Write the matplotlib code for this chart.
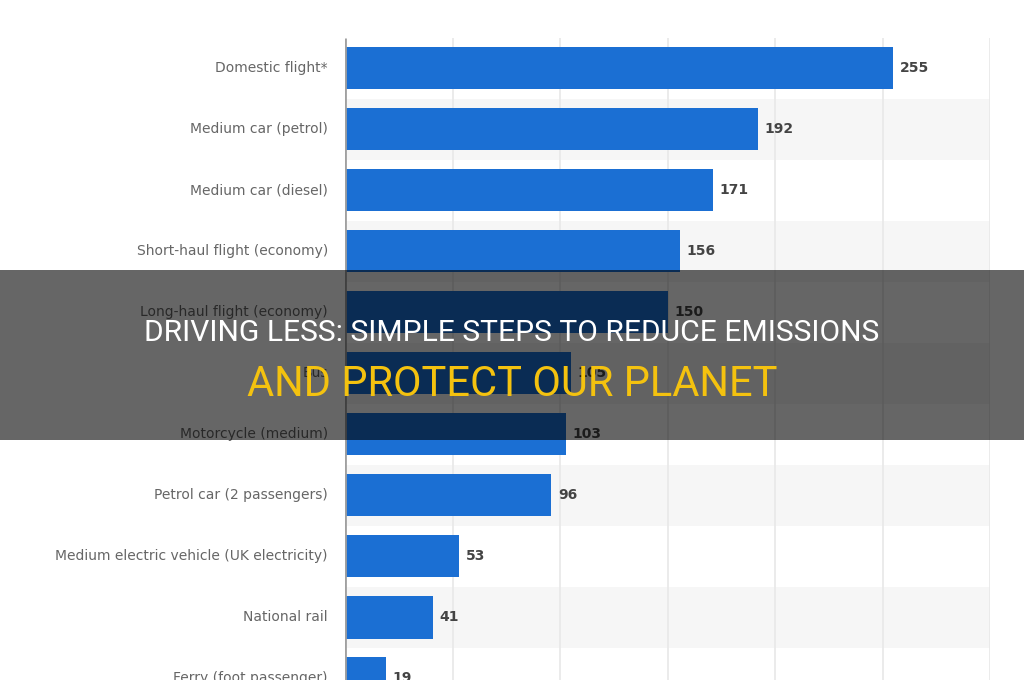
import matplotlib
matplotlib.use("Agg")
from matplotlib import pyplot as plt
from matplotlib.patches import Rectangle

categories = ["Domestic flight*", "Medium car (petrol)", "Medium car (diesel)",
              "Short-haul flight (economy)", "Long-haul flight (economy)", "Bus",
              "Motorcycle (medium)", "Petrol car (2 passengers)",
              "Medium electric vehicle (UK electricity)", "National rail",
              "Ferry (foot passenger)"]
values = [255, 192, 171, 156, 150, 105, 103, 96, 53, 41, 19]
grid_ticks = [50, 100, 150, 200, 250, 300]

title_line1 = "DRIVING LESS: SIMPLE STEPS TO REDUCE EMISSIONS"
title_line2 = "AND PROTECT OUR PLANET"

fig = plt.figure(figsize=(10.24, 6.8), dpi=100)
ax = fig.add_axes([345/1024, 0, 645/1024, 1])
ax.set_xlim(0, 300)
ax.set_ylim(10.03, -1.115)
ax.axis("off")

n = len(categories)
pos = list(range(n))

# alternating row shading
for i in pos:
    if i % 2 == 1:
        ax.axhspan(i - 0.5, i + 0.5, xmin=0, xmax=1, color="#f6f6f6", zorder=0, lw=0)

ax.vlines(grid_ticks, -0.5, n, color="#e8e8e8", lw=1.2, zorder=1)
ax.vlines([0], -0.5, n, color="#a0a0a0", lw=2, zorder=3)

ax.barh(pos, values, height=0.7, color="#1b6fd3", zorder=2)

for i, (c, v) in enumerate(zip(categories, values)):
    ax.text(-8, i, c, ha="right", va="center", fontsize=10, color="#666666",
            clip_on=False)
    ax.text(v + 3, i, str(v), ha="left", va="center", fontsize=10,
            fontweight="bold", color="#444444")

# dark overlay band with title
fig.patches.append(Rectangle((0, 1 - 440/680), 1, 170/680, transform=fig.transFigure,
                             facecolor="black", alpha=0.6, zorder=10))
fam = ["Liberation Sans Narrow", "Roboto", "DejaVu Sans"]
fig.text(0.5, 1 - 333/680, title_line1, ha="center", va="center", fontsize=21.6,
         color="white", family=fam, zorder=11)
fig.text(0.5, 1 - 384/680, title_line2, ha="center", va="center", fontsize=30,
         color="#f4c20f", family=fam, zorder=11)

fig.savefig("out.png", dpi=100)
